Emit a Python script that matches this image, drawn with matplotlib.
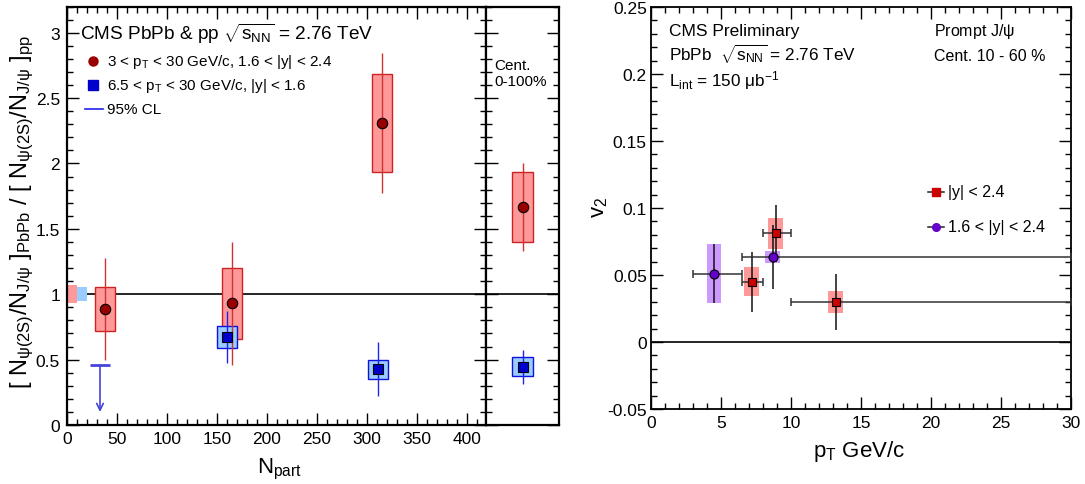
import matplotlib
matplotlib.use('Agg')
import matplotlib.pyplot as plt
from matplotlib.ticker import MultipleLocator
import numpy as np

plt.rcParams['font.family'] = ['Liberation Sans', 'DejaVu Sans']
plt.rcParams['mathtext.fontset'] = 'custom'
plt.rcParams['mathtext.rm'] = 'Liberation Sans'
plt.rcParams['mathtext.it'] = 'Liberation Sans'
plt.rcParams['mathtext.bf'] = 'Liberation Sans:bold'
plt.rcParams['mathtext.default'] = 'regular'

# ---------------- data: left panel (double ratio vs Npart) ----------------
npart_fwd = [38, 165, 315]            # 3<pT<30, 1.6<|y|<2.4
ratio_fwd = [0.89, 0.93, 2.31]
stat_fwd = [0.39, 0.47, 0.535]
syst_fwd = [0.168, 0.274, 0.372]

npart_mid = [160, 310.5]              # 6.5<pT<30, |y|<1.6
ratio_mid = [0.672, 0.427]
stat_mid = [0.201, 0.204]
syst_mid = [0.087, 0.072]

npart_ul = [33]                       # 95% CL upper limit (mid rapidity)
ratio_ul = [0.458]

# integrated 0-100 %
int_fwd, int_fwd_stat, int_fwd_syst = 1.667, 0.34, 0.27
int_mid, int_mid_stat, int_mid_syst = 0.445, 0.128, 0.074

# global (pp) uncertainties drawn at unity
glob_fwd = 0.068
glob_mid = 0.055

# ---------------- data: right panel (v2 vs pT) ----------------
pt_all = [7.2, 8.9, 13.2]             # |y|<2.4
v2_all = [0.045, 0.081, 0.030]
pt_all_lo = [6.5, 8.0, 10.0]
pt_all_hi = [8.0, 10.0, 30.0]
v2_all_stat = [0.0225, 0.021, 0.0208]
v2_all_syst = [0.0108, 0.0118, 0.0082]

pt_fwd = [4.5, 8.7]                   # 1.6<|y|<2.4
v2_fwd = [0.051, 0.0635]
pt_fwd_lo = [3.0, 6.5]
pt_fwd_hi = [6.5, 30.0]
v2_fwd_stat = [0.022, 0.024]
v2_fwd_syst = [0.022, 0.0047]

# ---------------- styling constants ----------------
W, H = 1085, 485
BOXW_N = 20.0
BOXW_PT = 1.05
RED_BOX = '#ff9999'
RED_EDGE = '#cc2222'
RED_PT = '#990000'
BLUE_BOX = '#99ccff'
BLUE_EDGE = '#1111dd'
BLUE_PT = '#0000cc'
PX = 72.0 / 100.0  # points per pixel

fig = plt.figure(figsize=(W / 100, H / 100), dpi=100)


def rect(x0, y0, x1, y1):
    return [x0 / W, 1 - y1 / H, (x1 - x0) / W, (y1 - y0) / H]


def fxy(px, py):
    return px / W, 1 - py / H


def root_ticks(ax):
    ax.tick_params(which='both', direction='in', top=True, right=True,
                   width=1.0, labelsize=12.5)
    ax.tick_params(which='major', length=12 * PX)
    ax.tick_params(which='minor', length=6 * PX)
    for s in ax.spines.values():
        s.set_linewidth(1.6)


ax1 = fig.add_axes(rect(67, 7.5, 486, 426))
axs = fig.add_axes(rect(486, 7.5, 559, 426))
ax2 = fig.add_axes(rect(651, 8, 1071, 410))

# ---- left main panel ----
ax1.set_xlim(0, 419)
ax1.set_ylim(0, 3.2)
ax1.axhline(1.0, color='black', lw=1.2, zorder=1)
ax1.bar([5], [2 * glob_fwd], bottom=[1 - glob_fwd], width=10,
        color=RED_BOX, edgecolor='none', zorder=2)
ax1.bar([15], [2 * glob_mid], bottom=[1 - glob_mid], width=10,
        color=BLUE_BOX, edgecolor='none', zorder=2)

nf = np.array(npart_fwd); rf = np.array(ratio_fwd)
ax1.bar(nf, 2 * np.array(syst_fwd), bottom=rf - np.array(syst_fwd), width=BOXW_N,
        color=RED_BOX, edgecolor=RED_EDGE, linewidth=1.0, zorder=3)
nm = np.array(npart_mid); rm = np.array(ratio_mid)
ax1.bar(nm, 2 * np.array(syst_mid), bottom=rm - np.array(syst_mid), width=BOXW_N,
        color=BLUE_BOX, edgecolor=BLUE_EDGE, linewidth=1.0, zorder=3)
ax1.errorbar(nf, rf, yerr=stat_fwd, fmt='none', ecolor='#cc3333', elinewidth=1.0, zorder=4)
ax1.errorbar(nm, rm, yerr=stat_mid, fmt='none', ecolor='#2222ee', elinewidth=1.0, zorder=4)
ax1.plot(nf, rf, 'o', ms=7.5, mfc=RED_PT, mec='black', mew=0.8, zorder=5)
ax1.plot(nm, rm, 's', ms=7, mfc=BLUE_PT, mec='black', mew=0.8, zorder=5)

for xu, yu in zip(npart_ul, ratio_ul):
    ax1.hlines(yu, xu - 10, xu + 10, color='#4444dd', lw=2, zorder=4)
    ax1.annotate('', xy=(xu, 0.10), xytext=(xu, yu),
                 arrowprops=dict(arrowstyle='->', color='#4444dd', lw=1.2,
                                 shrinkA=0, shrinkB=0, mutation_scale=12), zorder=4)

ax1.xaxis.set_major_locator(MultipleLocator(50))
ax1.xaxis.set_minor_locator(MultipleLocator(10))
ax1.yaxis.set_major_locator(MultipleLocator(0.5))
ax1.yaxis.set_minor_locator(MultipleLocator(0.1))
root_ticks(ax1)
ax1.tick_params(axis='y', pad=5)
ax1.tick_params(axis='x', pad=4)
ax1.set_yticks([0, 0.5, 1, 1.5, 2, 2.5, 3])
ax1.set_yticklabels(['0', '0.5', '1', '1.5', '2', '2.5', '3'])

# ---- side panel (0-100 %) ----
axs.set_xlim(0, 1)
axs.set_ylim(0, 3.2)
axs.axhline(1.0, color='black', lw=1.2, zorder=1)
axs.bar([0.5], [2 * int_fwd_syst], bottom=[int_fwd - int_fwd_syst], width=0.3,
        color=RED_BOX, edgecolor=RED_EDGE, linewidth=1.0, zorder=3)
axs.bar([0.5], [2 * int_mid_syst], bottom=[int_mid - int_mid_syst], width=0.3,
        color=BLUE_BOX, edgecolor=BLUE_EDGE, linewidth=1.0, zorder=3)
axs.errorbar([0.5], [int_fwd], yerr=[int_fwd_stat], fmt='none', ecolor='#cc3333', elinewidth=1.0, zorder=4)
axs.errorbar([0.5], [int_mid], yerr=[int_mid_stat], fmt='none', ecolor='#2222ee', elinewidth=1.0, zorder=4)
axs.plot([0.5], [int_fwd], 'o', ms=7.5, mfc=RED_PT, mec='black', mew=0.8, zorder=5)
axs.plot([0.5], [int_mid], 's', ms=7, mfc=BLUE_PT, mec='black', mew=0.8, zorder=5)
axs.yaxis.set_major_locator(MultipleLocator(0.5))
axs.yaxis.set_minor_locator(MultipleLocator(0.1))
root_ticks(axs)
axs.tick_params(axis='x', which='both', bottom=False, top=False, labelbottom=False)
axs.tick_params(axis='y', which='both', left=True, right=True, labelleft=False)
fig.text(*fxy(494, 70), 'Cent.', fontsize=11, ha='left', va='baseline')
fig.text(*fxy(494, 86), '0-100%', fontsize=11, ha='left', va='baseline')

# ---- right panel (v2) ----
ax2.set_xlim(0, 30)
ax2.set_ylim(-0.05, 0.25)
ax2.axhline(0.0, color='black', lw=1.2, zorder=1)

pa = np.array(pt_all); va = np.array(v2_all)
pf = np.array(pt_fwd); vf = np.array(v2_fwd)
ax2.bar(pa, 2 * np.array(v2_all_syst), bottom=va - np.array(v2_all_syst), width=BOXW_PT,
        color=RED_BOX, edgecolor='none', zorder=2)
ax2.bar(pf, 2 * np.array(v2_fwd_syst), bottom=vf - np.array(v2_fwd_syst), width=BOXW_PT,
        color='#cc99ff', edgecolor='none', zorder=2)
for p, v, lo, hi, st in ((pa, va, pt_all_lo, pt_all_hi, v2_all_stat),
                         (pf, vf, pt_fwd_lo, pt_fwd_hi, v2_fwd_stat)):
    ax2.errorbar(p, v, xerr=[p - np.array(lo), np.array(hi) - p], fmt='none',
                 ecolor='#333333', elinewidth=1.1, capsize=3, capthick=1.1, zorder=3)
    ax2.errorbar(p, v, yerr=st, fmt='none', ecolor='#111111', elinewidth=1.1,
                 capsize=0, zorder=3)
ax2.plot(pa, va, 's', ms=6, mfc='#cc0000', mec='black', mew=0.8, zorder=5)
ax2.plot(pf, vf, 'o', ms=6.5, mfc='#6600cc', mec='black', mew=0.8, zorder=5)

ax2.xaxis.set_major_locator(MultipleLocator(5))
ax2.xaxis.set_minor_locator(MultipleLocator(1))
ax2.yaxis.set_major_locator(MultipleLocator(0.05))
ax2.yaxis.set_minor_locator(MultipleLocator(0.01))
root_ticks(ax2)
ax2.tick_params(axis='y', pad=3)
ax2.tick_params(axis='x', pad=4)
ax2.set_yticks([-0.05, 0, 0.05, 0.1, 0.15, 0.2, 0.25])
ax2.set_yticklabels(['-0.05', '0', '0.05', '0.1', '0.15', '0.2', '0.25'])
for s in ax2.spines.values():
    s.set_linewidth(1.3)

# ---------------- texts ----------------
fig.text(*fxy(80, 40), r'CMS PbPb & pp $\sqrt{s_{NN}}$ = 2.76 TeV', fontsize=13.7,
         va='baseline', ha='left')
# left legend
fig.add_artist(plt.Line2D([93 / W], [1 - 62 / H], marker='o', ms=6.5, mfc=RED_PT,
                          mec=RED_PT, ls='none', transform=fig.transFigure))
fig.add_artist(plt.Line2D([93 / W], [1 - 86 / H], marker='s', ms=6.5, mfc=BLUE_PT,
                          mec=BLUE_PT, ls='none', transform=fig.transFigure))
fig.add_artist(plt.Line2D([85 / W, 103 / W], [1 - 110 / H, 1 - 110 / H], color='#2222ee',
                          lw=1.2, transform=fig.transFigure))
fig.text(*fxy(107, 62), r'3 < p$_{T}$ < 30 GeV/c, 1.6 < |y| < 2.4', fontsize=11,
         va='center', ha='left')
fig.text(*fxy(107, 86), r'6.5 < p$_{T}$ < 30 GeV/c, |y| < 1.6', fontsize=11,
         va='center', ha='left')
fig.text(*fxy(107, 110), '95% CL', fontsize=11, va='center', ha='left')

fig.text(*fxy(22, 212),
         r'[ N$_{\psi(2S)}$/N$_{J/\psi}$ ]$_{PbPb}$ / [ N$_{\psi(2S)}$/N$_{J/\psi}$ ]$_{pp}$',
         rotation=90, fontsize=17, ha='center', va='center')
fig.text(*fxy(257, 473), r'N$_{part}$', fontsize=16, ha='left', va='baseline')

# right panel texts
fig.text(*fxy(669, 36), 'CMS Preliminary', fontsize=12.5, ha='left', va='baseline')
fig.text(*fxy(669, 61), r'PbPb  $\sqrt{s_{NN}}$ = 2.76 TeV', fontsize=12.3, ha='left', va='baseline')
fig.text(*fxy(669, 86), r'L$_{int}$ = 150 $\mu$b$^{-1}$', fontsize=12.3, ha='left', va='baseline')
fig.text(*fxy(934, 36), r'Prompt J/$\psi$', fontsize=11.5, ha='left', va='baseline')
fig.text(*fxy(934, 61), 'Cent. 10 - 60 %', fontsize=11.5, ha='left', va='baseline')

fig.add_artist(plt.Line2D([928 / W, 944 / W], [1 - 193 / H, 1 - 193 / H], color='#222222',
                          lw=1.1, transform=fig.transFigure))
fig.add_artist(plt.Line2D([936 / W], [1 - 193 / H], marker='s', ms=5.5, mfc='#cc0000',
                          mec='#cc0000', ls='none', transform=fig.transFigure))
fig.add_artist(plt.Line2D([928 / W, 944 / W], [1 - 228 / H, 1 - 228 / H], color='#222222',
                          lw=1.1, transform=fig.transFigure))
fig.add_artist(plt.Line2D([936 / W], [1 - 228 / H], marker='o', ms=5.5, mfc='#6600cc',
                          mec='#6600cc', ls='none', transform=fig.transFigure))
fig.text(*fxy(948, 193), '|y| < 2.4', fontsize=11.5, ha='left', va='center')
fig.text(*fxy(948, 228), '1.6 < |y| < 2.4', fontsize=11.5, ha='left', va='center')

fig.text(*fxy(600, 207), r'v$_{2}$', rotation=90, fontsize=16, ha='center', va='center')
fig.text(*fxy(813, 457), r'p$_{T}$ GeV/c', fontsize=16, ha='left', va='baseline')

fig.savefig('out.png', dpi=100)
